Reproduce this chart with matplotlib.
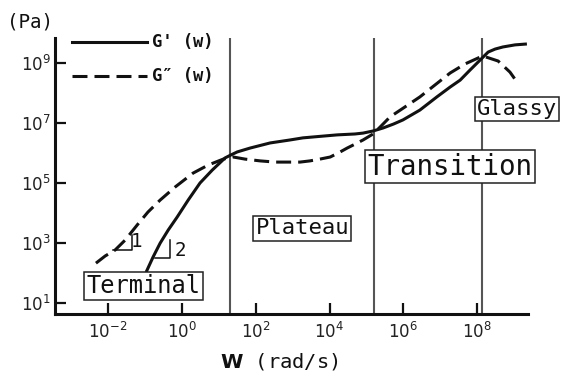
import matplotlib
matplotlib.use("Agg")
import numpy as np
import matplotlib.pyplot as plt
from matplotlib import font_manager as fm
from matplotlib.ticker import NullLocator

# ---- data: log10(angular frequency, rad/s) and log10(modulus, Pa) ----
log_w_storage = [-0.97, -0.78, -0.59, -0.37, -0.13, 0.17, 0.49, 0.82, 1.17, 1.33,
                 1.50, 1.85, 2.39, 2.93, 3.28, 3.74, 4.21, 4.69, 4.91, 5.18,
                 5.45, 5.73, 5.99, 6.45, 6.91, 7.27, 7.54, 7.81, 8.08, 8.30,
                 8.49, 8.70, 9.03, 9.35]
log_g_storage = [2.02, 2.53, 2.99, 3.43, 3.86, 4.43, 5.00, 5.43, 5.84, 5.94,
                 6.04, 6.17, 6.34, 6.44, 6.51, 6.56, 6.61, 6.64, 6.67, 6.74,
                 6.84, 6.97, 7.11, 7.44, 7.88, 8.21, 8.44, 8.78, 9.11, 9.38,
                 9.48, 9.55, 9.62, 9.65]

log_w_loss = [-2.33, -2.08, -1.81, -1.54, -1.21, -0.92, -0.59, -0.18, 0.30, 0.71,
              1.12, 1.39, 1.71, 2.12, 2.53, 2.85, 3.20, 3.47, 3.74, 4.02,
              4.29, 4.48, 4.69, 4.91, 5.18, 5.37, 5.64, 6.04, 6.45, 6.86,
              7.27, 7.67, 8.08, 8.15, 8.57, 8.89, 9.08]
log_g_loss = [2.32, 2.56, 2.76, 3.09, 3.60, 4.03, 4.43, 4.87, 5.33, 5.60,
              5.80, 5.87, 5.80, 5.74, 5.70, 5.70, 5.70, 5.74, 5.80, 5.87,
              6.04, 6.17, 6.30, 6.44, 6.64, 6.87, 7.21, 7.54, 7.88, 8.28,
              8.68, 8.98, 9.21, 9.25, 9.08, 8.71, 8.38]

# region boundaries (log10 rad/s)
log_w_boundaries = [1.31, 5.21, 8.14]

region_names = ["Terminal", "Plateau", "Transition", "Glassy"]
legend_labels = ["G' (w)", "G\u2033 (w)"]
slope_labels = ["1", "2"]
x_tick_exponents = [-2, 0, 2, 4, 6, 8]
y_tick_exponents = [1, 3, 5, 7, 9]

# ---- fonts ----
installed = {f.name for f in fm.fontManager.ttflist}
if "Noto Sans Mono CJK JP" in installed:
    mono, advance = "Noto Sans Mono CJK JP", 0.5
else:
    mono, advance = "DejaVu Sans Mono", 0.602


def mono_size(px_per_char):
    """Font size (pt) giving the requested character pitch in pixels."""
    return px_per_char / advance * 72.0 / 100.0


INK = "#111111"

fig = plt.figure(figsize=(5.64, 3.78), dpi=100)
ax = fig.add_axes([0.0975, 0.1693, 0.8387, 0.7302])
ax.set_xscale("log")
ax.set_yscale("log")
ax.set_xlim(10 ** -3.44, 10 ** 9.38)
ax.set_ylim(10 ** 0.62, 10 ** 9.85)

for side in ("top", "right"):
    ax.spines[side].set_visible(False)
for side in ("left", "bottom"):
    ax.spines[side].set_linewidth(2.2)
    ax.spines[side].set_color(INK)

ax.set_xticks([10.0 ** e for e in x_tick_exponents])
ax.set_yticks([10.0 ** e for e in y_tick_exponents])
ax.xaxis.set_minor_locator(NullLocator())
ax.yaxis.set_minor_locator(NullLocator())
ax.tick_params(direction="in", length=8, width=1.6, color=INK,
               labelsize=12, labelcolor="#222222")
ax.tick_params(axis="x", pad=6)
ax.tick_params(axis="y", pad=3)

# region boundaries
for b in log_w_boundaries:
    ax.axvline(10 ** b, color="#555555", lw=1.5, zorder=1)

# moduli curves
w_s = 10.0 ** np.array(log_w_storage)
g_s = 10.0 ** np.array(log_g_storage)
w_l = 10.0 ** np.array(log_w_loss)
g_l = 10.0 ** np.array(log_g_loss)
dash = (0, (4.9, 2.3))
ax.plot(w_s, g_s, color=INK, lw=2.2, solid_capstyle="butt", zorder=3)
ax.plot(w_l, g_l, color=INK, lw=2.2, linestyle=dash, zorder=3)

# slope triangles in the terminal zone
ax.plot([10 ** -1.86, 10 ** -1.35, 10 ** -1.35],
        [10 ** 2.76, 10 ** 2.76, 10 ** 3.26], color=INK, lw=1.1, zorder=3)
ax.plot([10 ** -0.74, 10 ** -0.32, 10 ** -0.32],
        [10 ** 2.49, 10 ** 2.49, 10 ** 3.09], color=INK, lw=1.1, zorder=3)
for label, (lx, ly) in zip(slope_labels, [(-1.24, 3.03), (-0.05, 2.76)]):
    ax.text(10 ** lx, 10 ** ly, label, ha="center", va="center",
            family=mono, fontsize=mono_size(11.5), color=INK, zorder=4)

# region labels
region_layout = [  # (log x centre, log y centre, char pitch px)
    (-1.05, 1.56, 14.3),
    (3.26, 3.48, 13.4),
    (7.27, 5.55, 16.6),
    (9.08, 7.47, 13.3),
]
for name, (cx, cy, pitch) in zip(region_names, region_layout):
    ax.text(10 ** cx, 10 ** cy, name, ha="center", va="center",
            family=mono, fontsize=mono_size(pitch), color=INK, zorder=5,
            clip_on=False,
            bbox=dict(boxstyle="square,pad=0.1", fc="white", ec="#222222",
                      lw=1.1))

# legend drawn in axes fraction
legend_rows = [(0.9855, "-"), (0.862, dash)]
for label, (yy, ls) in zip(legend_labels, legend_rows):
    ax.plot([0.036, 0.1945], [yy, yy], transform=ax.transAxes, color=INK,
            lw=2.2, linestyle=ls, clip_on=False)
    ax.text(0.205, yy, label, transform=ax.transAxes, ha="left",
            va="center", family=mono, fontsize=mono_size(10.3),
            fontweight="bold", color=INK)

# axis titles
ax.set_xlabel(r"$\mathbf{W}$ (rad/s)", family=mono, fontsize=mono_size(12.3),
              color=INK)
ax.xaxis.set_label_coords(0.475, -0.135)
ax.set_ylabel("(Pa)", family=mono, fontsize=mono_size(11.5), rotation=0,
              color=INK, ha="center", va="center")
ax.yaxis.set_label_coords(-0.053, 1.058)

fig.savefig("out.png", dpi=100)
